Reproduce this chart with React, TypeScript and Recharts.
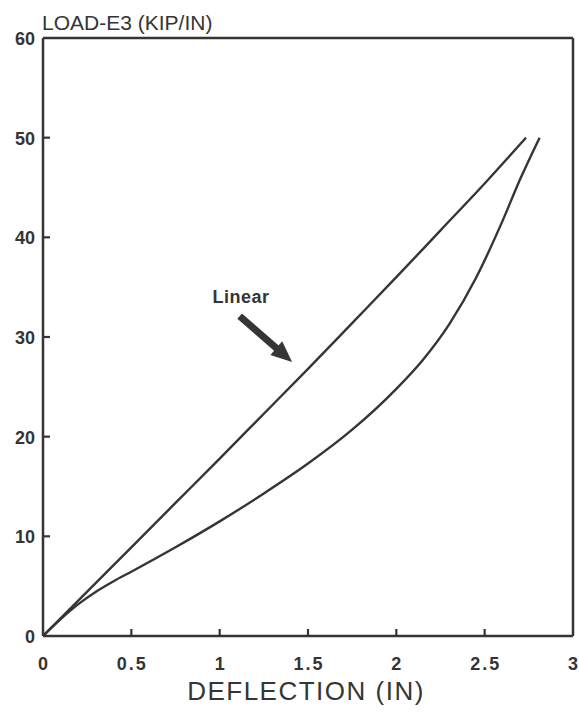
import React from 'react';
import { LineChart, Line, XAxis, YAxis, ReferenceLine, ReferenceDot, Label } from 'recharts';

// loading branch (marked "Linear")
const upperDeflection = [0, 0.25, 0.5, 0.75, 1, 1.25, 1.5, 1.75, 2, 2.25, 2.5, 2.734];
const upperLoad = [0, 4.45, 8.9, 13.35, 17.8, 22.3, 26.8, 31.4, 36.0, 40.7, 45.4, 50.0];

// unloading / nonlinear branch
const lowerDeflection = [0, 0.1, 0.2, 0.3, 0.4, 0.5, 0.75, 1, 1.25, 1.5, 1.75, 2, 2.15, 2.3, 2.45, 2.6, 2.7, 2.811];
const lowerLoad = [0, 1.7, 3.2, 4.45, 5.5, 6.45, 8.9, 11.5, 14.3, 17.3, 20.7, 24.8, 27.7, 31.3, 35.9, 41.6, 45.8, 50.0];

const xTicks = [0, 0.5, 1, 1.5, 2, 2.5, 3];
const yTicks = [0, 10, 20, 30, 40, 50, 60];

const xTitle = 'DEFLECTION (IN)';
const yTitle = 'LOAD-E3 (KIP/IN)';
const noteText = 'Linear';

// annotation anchor (data units)
const notePos = { x: 0.96, y: 33.45 };
const arrowFrom = { x: 1.113, y: 32.1 };
const arrowTo = { x: 1.41, y: 27.5 };

const upperData = upperDeflection.map((x, i) => ({ x, load: upperLoad[i] }));
const lowerData = lowerDeflection.map((x, i) => ({ x, load: lowerLoad[i] }));

const ink = '#353535';

const Arrow = (props: any) => {
  const { x1, y1, x2, y2 } = props;
  const ang = Math.atan2(y2 - y1, x2 - x1);
  const headLen = 21;
  const headHalf = 9;
  const bx = x2 - headLen * Math.cos(ang);
  const by = y2 - headLen * Math.sin(ang);
  const px = -Math.sin(ang);
  const py = Math.cos(ang);
  return (
    <g>
      <line x1={x1} y1={y1} x2={bx + 2 * Math.cos(ang)} y2={by + 2 * Math.sin(ang)} stroke={ink} strokeWidth={7} />
      <polygon
        points={`${x2},${y2} ${bx + px * headHalf},${by + py * headHalf} ${bx - px * headHalf},${by - py * headHalf}`}
        fill={ink}
      />
    </g>
  );
};

// short inward tick, drawn by a ReferenceLine at the tick value
const InTickX = (props: any) => {
  const { x1, y1 } = props;
  return <line x1={x1} y1={y1} x2={x1} y2={y1 - 7} stroke={ink} strokeWidth={2.2} />;
};
const InTickY = (props: any) => {
  const { x1, y1 } = props;
  return <line x1={x1} y1={y1} x2={x1 + 7} y2={y1} stroke={ink} strokeWidth={2.2} />;
};

const NoteText = (props: any) => (
  <text
    x={props.cx}
    y={props.cy}
    fill={ink}
    fontFamily="Liberation Sans, Arial, sans-serif"
    fontWeight="bold"
    fontSize={18}
    style={{ letterSpacing: '0.5px' }}
  >
    {noteText}
  </text>
);

const renderYTitle = (props: any) => {
  const vb = props.viewBox || { x: 0, y: 38, width: 43 };
  return (
    <text
      x={vb.x + vb.width - 1}
      y={vb.y - 8}
      fill={ink}
      fontFamily="Liberation Sans, Arial, sans-serif"
      fontSize={21}
    >
      {yTitle}
    </text>
  );
};

const renderXTitle = (props: any) => {
  const vb = props.viewBox || { x: 43, y: 636, width: 530 };
  return (
    <text
      x={vb.x + vb.width / 2 - 2}
      y={vb.y + 64}
      fill={ink}
      textAnchor="middle"
      fontFamily="Liberation Sans, Arial, sans-serif"
      fontSize={26}
      style={{ letterSpacing: '1.5px' }}
    >
      {xTitle}
    </text>
  );
};

const labelFont = {
  fontFamily: 'Liberation Sans, Arial, sans-serif',
  fontWeight: 'bold' as const,
  fontSize: 18,
};

const XTick = (props: any) => {
  const { x, y, payload } = props;
  return (
    <text x={Number(x) + 1} y={Number(y) + 34} textAnchor="middle" fill={ink} {...labelFont} style={{ letterSpacing: '2px' }}>
      {String(payload.value)}
    </text>
  );
};

const YTick = (props: any) => {
  const { x, y, payload } = props;
  return (
    <text x={Number(x) - 8} y={Number(y) + 7} textAnchor="end" fill={ink} {...labelFont}>
      {String(payload.value)}
    </text>
  );
};

export default function App() {
  return (
    <div style={{ position: 'absolute', left: 0, top: 0, width: 579, height: 714, background: '#fff' }}>
      <LineChart width={579} height={714} margin={{ top: 38, right: 6, left: 0, bottom: 0 }}>
        <XAxis
          type="number"
          dataKey="x"
          domain={[0, 3]}
          ticks={xTicks}
          interval={0}
          height={78}
          tickSize={0}
          tickMargin={0}
          axisLine={{ stroke: ink, strokeWidth: 2.5 }}
          tickLine={false}
          tick={<XTick />}
          allowDataOverflow
        >
          <Label content={renderXTitle} />
        </XAxis>
        <YAxis
          type="number"
          domain={[0, 60]}
          ticks={yTicks}
          interval={0}
          width={43}
          tickSize={0}
          tickMargin={0}
          axisLine={{ stroke: ink, strokeWidth: 2.5 }}
          tickLine={false}
          tick={<YTick />}
          allowDataOverflow
        >
          <Label content={renderYTitle} />
        </YAxis>
        <ReferenceLine y={60} stroke={ink} strokeWidth={2.5} />
        <ReferenceLine x={3} stroke={ink} strokeWidth={2.5} />
        {xTicks.slice(1, -1).map((t) => (
          <ReferenceLine
            key={`xt${t}`}
            segment={[{ x: t, y: 0 }, { x: t, y: 1 }]}
            shape={InTickX}
          />
        ))}
        {yTicks.slice(1, -1).map((t) => (
          <ReferenceLine
            key={`yt${t}`}
            segment={[{ x: 0, y: t }, { x: 0.05, y: t }]}
            shape={InTickY}
          />
        ))}
        <Line
          data={upperData}
          dataKey="load"
          type="monotone"
          stroke={ink}
          strokeWidth={2.4}
          dot={false}
          isAnimationActive={false}
        />
        <Line
          data={lowerData}
          dataKey="load"
          type="monotone"
          stroke={ink}
          strokeWidth={2.4}
          dot={false}
          isAnimationActive={false}
        />
        <ReferenceLine segment={[arrowFrom, arrowTo]} shape={Arrow} />
        <ReferenceDot x={notePos.x} y={notePos.y} r={1} shape={NoteText} />
      </LineChart>
    </div>
  );
}
